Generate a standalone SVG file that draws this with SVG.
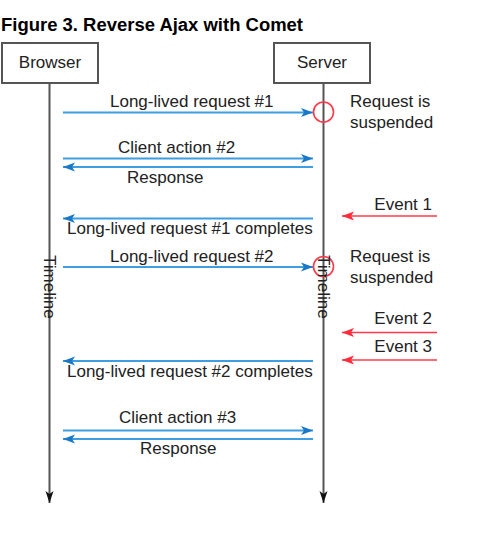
<svg xmlns="http://www.w3.org/2000/svg" width="477" height="533" viewBox="0 0 477 533">
<style>
text{font-family:"Liberation Sans",Arial,sans-serif;font-size:17px;fill:#222}
.title{font-weight:bold;fill:#000;font-size:17.5px}
.box{fill:#fff;stroke:#555;stroke-width:2}
.life{stroke:#555;stroke-width:2;fill:none}
.blue{stroke:#3d9ee2;stroke-width:2;fill:none}
.red{stroke:#ff3a4a;stroke-width:1.6;fill:none}
.ring{stroke:#ff3a4a;stroke-width:1.6;fill:none}
.end{text-anchor:end}
</style>
<defs>
<marker id="ab" markerUnits="userSpaceOnUse" markerWidth="14" markerHeight="10" refX="12" refY="5" orient="auto">
<path d="M0,0.5 L12,5 L0,9.5 L3,5 Z" fill="#1a78c8"/>
</marker>
<marker id="ar" markerUnits="userSpaceOnUse" markerWidth="14" markerHeight="10" refX="12" refY="5" orient="auto">
<path d="M0,0.5 L12,5 L0,9.5 L3,5 Z" fill="#ff2a3a"/>
</marker>
<marker id="ak" markerUnits="userSpaceOnUse" markerWidth="10" markerHeight="14" refX="5" refY="12" orient="0">
<path d="M1,0 L5,12 L9,0 L5,3 Z" fill="#111"/>
</marker>
</defs>
<text class="title" x="1" y="31" textLength="302" lengthAdjust="spacingAndGlyphs">Figure 3. Reverse Ajax with Comet</text>
<g id="connectors">
<line class="life" x1="49.5" y1="83" x2="49.5" y2="503" marker-end="url(#ak)"/>
<line class="life" x1="323.5" y1="83" x2="323.5" y2="503" marker-end="url(#ak)"/>
<line class="blue" x1="63" y1="112.5" x2="313" y2="112.5" marker-end="url(#ab)"/>
<line class="blue" x1="63" y1="158.5" x2="313" y2="158.5" marker-end="url(#ab)"/>
<line class="blue" x1="313" y1="167" x2="63" y2="167" marker-end="url(#ab)"/>
<line class="blue" x1="313" y1="218.5" x2="63" y2="218.5" marker-end="url(#ab)"/>
<line class="blue" x1="63" y1="267" x2="313" y2="267" marker-end="url(#ab)"/>
<line class="blue" x1="313" y1="361" x2="63" y2="361" marker-end="url(#ab)"/>
<line class="blue" x1="63" y1="430.5" x2="313" y2="430.5" marker-end="url(#ab)"/>
<line class="blue" x1="313" y1="439" x2="63" y2="439" marker-end="url(#ab)"/>
<line class="red" x1="437" y1="216" x2="342" y2="216" marker-end="url(#ar)"/>
<line class="red" x1="437" y1="332.5" x2="342" y2="332.5" marker-end="url(#ar)"/>
<line class="red" x1="437" y1="360" x2="342" y2="360" marker-end="url(#ar)"/>
<circle class="ring" cx="323.5" cy="112" r="10"/>
<circle class="ring" cx="323.5" cy="266.5" r="10"/>
</g>
<g id="browser">
<rect class="box" x="2" y="43" width="96" height="40"/>
<text x="50" y="68" text-anchor="middle">Browser</text>
<text transform="translate(44,255) rotate(90)">Timeline</text>
</g>
<g id="server">
<rect class="box" x="274" y="43" width="96" height="40"/>
<text x="322" y="68" text-anchor="middle">Server</text>
<text transform="translate(318,255) rotate(90)">Timeline</text>
</g>
<g id="labels">
<text x="110" y="107">Long-lived request #1</text>
<text x="350" y="107">Request is</text>
<text x="350" y="128">suspended</text>
<text x="118" y="153">Client action #2</text>
<text x="127" y="183">Response</text>
<text class="end" x="432" y="210">Event 1</text>
<text x="67" y="234">Long-lived request #1 completes</text>
<text x="110" y="262">Long-lived request #2</text>
<text x="350" y="262">Request is</text>
<text x="350" y="283">suspended</text>
<text class="end" x="432" y="324">Event 2</text>
<text class="end" x="432" y="352">Event 3</text>
<text x="67" y="377">Long-lived request #2 completes</text>
<text x="119" y="423">Client action #3</text>
<text x="140" y="454">Response</text>
</g>
</svg>
